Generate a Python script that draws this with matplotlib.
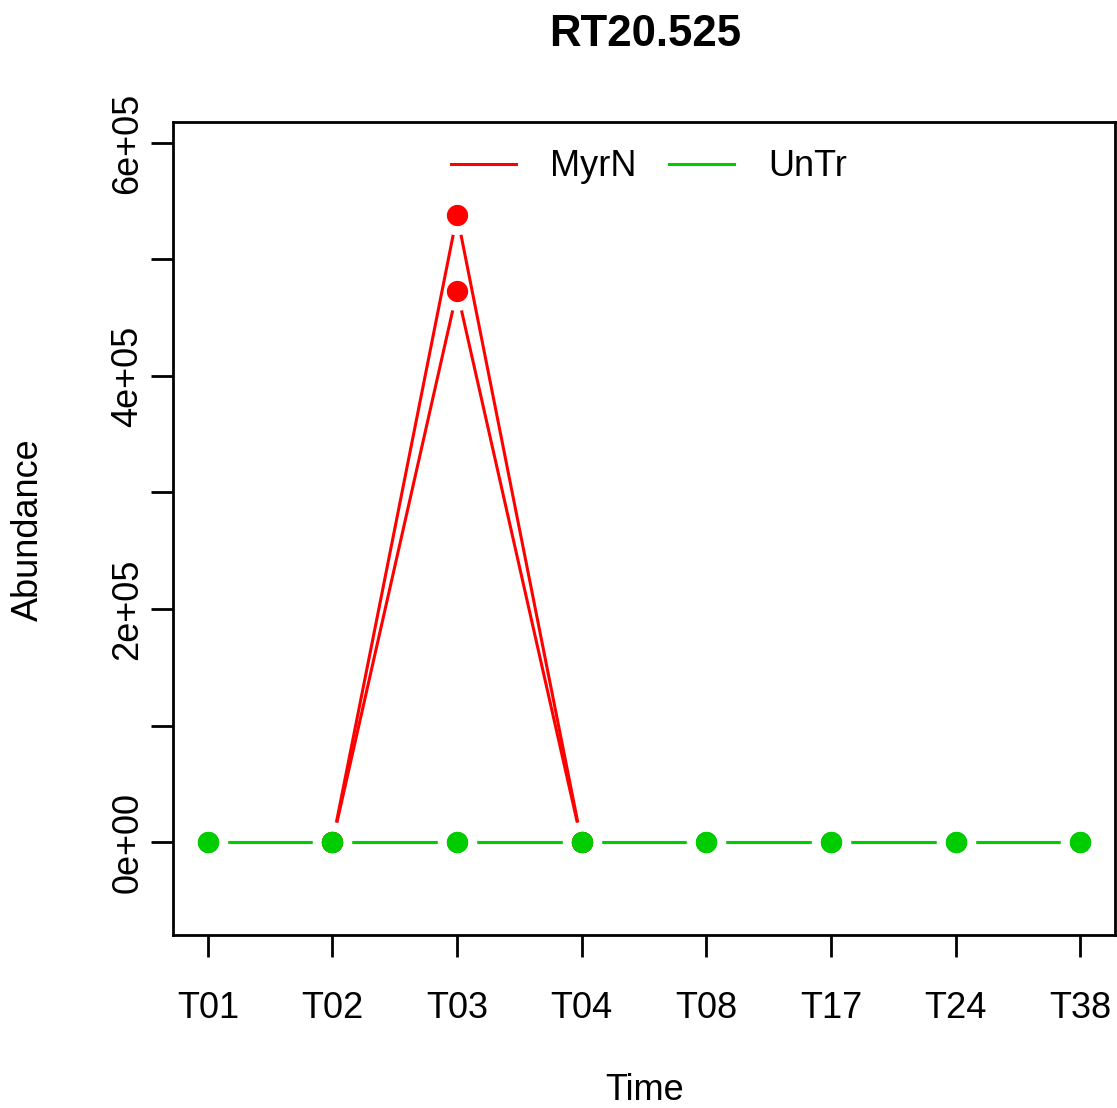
import numpy as np
import matplotlib
matplotlib.use("Agg")
import matplotlib.pyplot as plt

plt.rcParams['font.family'] = ['Liberation Sans', 'DejaVu Sans']

# data
times = ['T01', 'T02', 'T03', 'T04', 'T08', 'T17', 'T24', 'T38']
myrn_rep1 = [np.nan, 0, 538000, 0, np.nan, np.nan, np.nan, np.nan]
myrn_rep2 = [np.nan, 0, 473000, 0, np.nan, np.nan, np.nan, np.nan]
untr_rep1 = [0, 0, 0, 0, 0, 0, 0, 0]
untr_rep2 = [0, 0, 0, 0, 0, 0, 0, 0]
title = 'RT20.525'

RED = '#FF0000'
GREEN = '#00CD00'

fig = plt.figure(figsize=(11.17, 11.08), dpi=100)
ax = fig.add_axes([173/1117, 1 - 935/1108, (1115-173)/1117, (935-122)/1108])
x = np.arange(1, len(times) + 1)
ax.set_xlim(0.72, 8.28)
ax.set_ylim(-79800, 618000)

GAP = 20  # pixels, like R type="b"


def draw_b(yvals, color):
    # lines with gaps around the points, then the points
    pts = ax.transData.transform(np.column_stack([x, yvals]))
    inv = ax.transData.inverted()
    for i in range(len(x) - 1):
        p0, p1 = pts[i], pts[i + 1]
        if np.any(np.isnan(p0)) or np.any(np.isnan(p1)):
            continue
        d = p1 - p0
        L = np.hypot(*d)
        if L <= 2 * GAP:
            continue
        u = d / L
        a = inv.transform(p0 + u * GAP)
        b = inv.transform(p1 - u * GAP)
        ax.plot([a[0], b[0]], [a[1], b[1]], color=color, lw=2.2,
                solid_capstyle='butt', zorder=2)
    ax.plot(x, yvals, 'o', color=color, ms=14.5, mec=color, mew=0.8, zorder=3)


for s in [myrn_rep1, myrn_rep2]:
    draw_b(np.array(s, dtype=float), RED)
for s in [untr_rep1, untr_rep2]:
    draw_b(np.array(s, dtype=float), GREEN)

ax.set_xticks(x)
ax.set_xticklabels(times)
yt = np.arange(0, 700000, 100000)
ax.set_yticks(yt)
ax.set_yticklabels(['0e+00', '', '2e+05', '', '4e+05', '', '6e+05'],
                   rotation=90, va='center')
ax.tick_params(axis='x', length=16, width=2, labelsize=26, pad=24)
ax.tick_params(axis='y', length=16, width=2, labelsize=26, pad=4)
for sp in ax.spines.values():
    sp.set_linewidth(2)

# legend (lines only)
h1, = ax.plot([], [], color=RED, lw=2.2)
h2, = ax.plot([], [], color=GREEN, lw=2.2)
ax.legend([h1, h2], ['MyrN', 'UnTr'], ncol=2, frameon=False,
          loc='center', bbox_to_anchor=(649/1117, 1 - 167/1108),
          bbox_transform=fig.transFigure, fontsize=26,
          handlelength=1.8, handletextpad=0.95, columnspacing=0.9)

fig.text(645/1117, 1 - 35/1108, title, ha='center', va='center',
         fontsize=31.5, fontweight='bold')
fig.text(645/1117, 1 - 1091/1108, 'Time', ha='center', va='center', fontsize=26)
fig.text(28/1117, 1 - 530/1108, 'Abundance', ha='center', va='center',
         fontsize=26, rotation=90)

fig.savefig('out.png', dpi=100)
